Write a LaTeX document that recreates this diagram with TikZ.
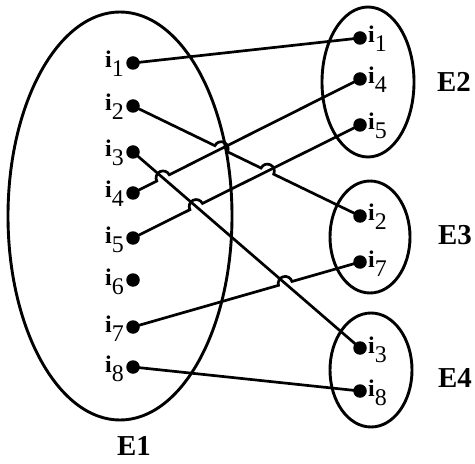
\documentclass[tikz,border=0pt]{standalone}
\usepackage{fontspec}
\setmainfont{Liberation Serif}
\usetikzlibrary{calc,intersections}
\tikzset{
  dot/.style={circle,fill=black,inner sep=0pt,minimum size=13.5bp},
  setshape/.style={draw=black,line width=2.9bp},
  link/.style={line width=2.7bp},
  lbl/.style={inner sep=0pt,font=\fontsize{24}{24}\selectfont},
  setname/.style={inner sep=0pt,font=\fontsize{29}{29}\selectfont\bfseries},
}
\newcommand{\itm}[1]{\textbf{i}\raisebox{-9bp}{#1}}
\begin{document}
\begin{tikzpicture}[x=1bp,y=-1bp]
\useasboundingbox (0,0) rectangle (475,464);
% sets
\draw[setshape] (120,216) ellipse[x radius=112bp, y radius=204bp];
\draw[setshape] (368,82) ellipse[x radius=46bp, y radius=75bp];
\draw[setshape] (370,237) ellipse[x radius=40bp, y radius=56bp];
\draw[setshape] (371,370) ellipse[x radius=41bp, y radius=57bp];
\node[setname] (E1) at (134,446) {E1};
\node[setname] (E2) at (454,82) {E2};
\node[setname] (E3) at (455,235) {E3};
\node[setname] (E4) at (455,378) {E4};
% left dots
\foreach \k/\y in {1/63,2/106,3/152,4/193,5/238,6/280,7/327,8/367}{
  \node[dot] (a\k) at (133,\y) {};
  \node[lbl,anchor=base east] (la\k) at (124,\y+5) {\itm{\k}};
}
% right dots
\foreach \k/\y in {1/38,4/79,5/125,2/216,7/262,3/348,8/391}{
  \node[dot] (b\k) at (360,\y) {};
  \node[lbl,anchor=base west] (lb\k) at (368,\y+5) {\itm{\k}};
}
% crossing helpers
\path[name path=L2] (a2.center) -- (b2.center);
\path[name path=L3] (a3.center) -- (b3.center);
\path[name path=L4] (a4.center) -- (b4.center);
\path[name path=L5] (a5.center) -- (b5.center);
\path[name path=L7] (a7.center) -- (b7.center);
\path[name intersections={of=L2 and L4, by=X24}];
\path[name intersections={of=L2 and L5, by=X25}];
\path[name intersections={of=L3 and L4, by=X34}];
\path[name intersections={of=L3 and L5, by=X35}];
\path[name intersections={of=L3 and L7, by=X37}];
% links
\draw[link] (a1.center) -- (b1.center);
\draw[link] (a8.center) -- (b8.center);
\draw[link] (a3.center) -- (b3.center);
\draw[link] let \p1=($(b2.center)-(a2.center)$), \n1={atan2(\y1,\x1)} in
  (a2.center) -- ($(X24)!7bp!(a2.center)$) arc[start angle=\n1+180, delta angle=-180, radius=7bp]
  -- ($(X25)!7bp!(a2.center)$) arc[start angle=\n1+180, delta angle=-180, radius=7bp]
  -- (b2.center);
\draw[link] let \p1=($(b4.center)-(a4.center)$), \n1={atan2(\y1,\x1)} in
  (a4.center) -- ($(X34)!7bp!(a4.center)$) arc[start angle=\n1+180, delta angle=-180, radius=7bp]
  -- (b4.center);
\draw[link] let \p1=($(b5.center)-(a5.center)$), \n1={atan2(\y1,\x1)} in
  (a5.center) -- ($(X35)!7bp!(a5.center)$) arc[start angle=\n1+180, delta angle=-180, radius=7bp]
  -- (b5.center);
\draw[link] let \p1=($(b7.center)-(a7.center)$), \n1={atan2(\y1,\x1)} in
  (a7.center) -- ($(X37)!7bp!(a7.center)$) arc[start angle=\n1+180, delta angle=-180, radius=7bp]
  -- (b7.center);
\end{tikzpicture}
\end{document}
